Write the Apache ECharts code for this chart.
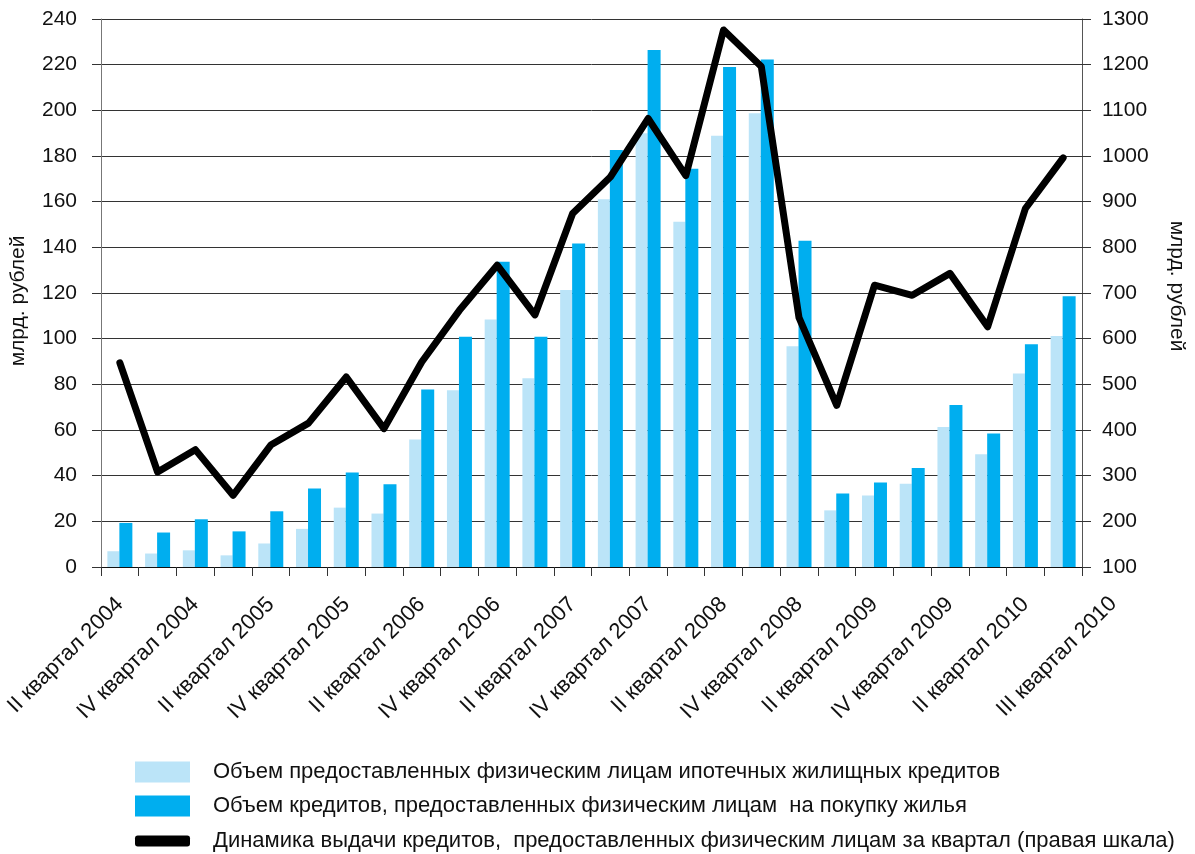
<!DOCTYPE html>
<html>
<head>
<meta charset="utf-8">
<script src="https://cdn.jsdelivr.net/npm/echarts@6/dist/echarts.min.js"></script>
<style>
  html, body { margin: 0; padding: 0; background: #fff; }
  #main { width: 1195px; height: 854px; }
</style>
</head>
<body>
<div id="main"></div>
<script>
// кварталы
const quarters = [
  "II квартал 2004", "III квартал 2004", "IV квартал 2004",
  "I квартал 2005", "II квартал 2005", "III квартал 2005", "IV квартал 2005",
  "I квартал 2006", "II квартал 2006", "III квартал 2006", "IV квартал 2006",
  "I квартал 2007", "II квартал 2007", "III квартал 2007", "IV квартал 2007",
  "I квартал 2008", "II квартал 2008", "III квартал 2008", "IV квартал 2008",
  "I квартал 2009", "II квартал 2009", "III квартал 2009", "IV квартал 2009",
  "I квартал 2010", "II квартал 2010", "III квартал 2010"
];
// ипотечные жилищные кредиты, млрд. руб.
const mortgage = [6.9, 5.9, 7.3, 5.1, 10.3, 16.7, 26, 23.4, 55.8, 77.4, 108.4, 82.7, 121.3,
  161.1, 190, 151.2, 188.9, 198.7, 96.7, 24.8, 31.3, 36.5, 61.3, 49.4, 84.7, 101.2];
// кредиты на покупку жилья, млрд. руб.
const housing = [19.3, 15.1, 20.9, 15.6, 24.4, 34.4, 41.4, 36.2, 77.7, 100.8, 133.7, 100.8, 141.7,
  182.6, 226.4, 174.4, 219, 222.3, 142.9, 32.2, 37, 43.4, 71, 58.5, 97.6, 118.6];
// выдача кредитов за квартал (правая шкала)
const issued = [547, 308, 357, 257, 367, 415, 516, 403, 549, 662, 761, 652, 874,
  954, 1082, 957, 1276, 1196, 646, 454, 717, 695, 743, 626, 885, 996];

const names = [
  "Объем предоставленных физическим лицам ипотечных жилищных кредитов",
  "Объем кредитов, предоставленных физическим лицам  на покупку жилья",
  "Динамика выдачи кредитов,  предоставленных физическим лицам за квартал (правая шкала)"
];

const font = "'Liberation Sans', Arial, Helvetica, sans-serif";
const chart = echarts.init(document.getElementById("main"));

// последняя подпись в оригинале сдвинута вправо
const lastIdx = quarters.length - 1;
const categoryData = quarters.map((q, i) =>
  i === lastIdx ? { value: q, textStyle: { verticalAlign: "top", padding: [24, -36, 0, 0] } } : q
);

const option = {
  animation: false,
  textStyle: { fontFamily: font, color: "#111" },
  grid: { left: 99, right: 109, top: 19, bottom: 287, containLabel: false },
  legend: [
    {
      orient: "vertical", left: 130, top: 756, itemWidth: 55, itemHeight: 21, itemGap: 12,
      data: [{ name: names[0], icon: "rect" }, { name: names[1], icon: "rect" }],
      textStyle: { fontFamily: font, fontSize: 22, color: "#111", padding: [0, 0, 0, 18] }
    },
    {
      orient: "vertical", left: 130, top: 825, itemWidth: 55, itemHeight: 11,
      data: [{ name: names[2], icon: "roundRect" }],
      textStyle: { fontFamily: font, fontSize: 22, color: "#111", padding: [0, 0, 0, 18] }
    }
  ],
  xAxis: {
    type: "category",
    data: categoryData,
    axisLine: { lineStyle: { color: "#111", width: 1 } },
    axisTick: { show: true, interval: 0, length: 9, lineStyle: { color: "#333" } },
    axisLabel: {
      interval: (i) => i % 2 === 0 || i === lastIdx,
      rotate: 45, margin: 34, fontSize: 22, color: "#111", fontFamily: font
    }
  },
  yAxis: [
    {
      type: "value", min: 0, max: 240, interval: 20,
      name: "млрд. рублей", nameLocation: "middle", nameGap: 72, nameRotate: 90,
      nameTextStyle: { fontSize: 21, color: "#111", fontFamily: font, padding: [0, 16, 0, 0] },
      axisLine: { show: true, lineStyle: { color: "#777" } },
      axisTick: { show: true, length: 9, lineStyle: { color: "#333" } },
      axisLabel: { fontSize: 21, color: "#111", margin: 24, fontFamily: font },
      splitLine: { lineStyle: { color: "#333", width: 1 } }
    },
    {
      type: "value", min: 100, max: 1300, interval: 100,
      name: "млрд. рублей", nameLocation: "middle", nameGap: 84, nameRotate: -90,
      nameTextStyle: { fontSize: 21, color: "#111", fontFamily: font, padding: [0, 14, 0, 0] },
      axisLine: { show: true, lineStyle: { color: "#555" } },
      axisTick: { show: true, length: 9, lineStyle: { color: "#333" } },
      axisLabel: { fontSize: 21, color: "#111", margin: 20, fontFamily: font, formatter: (v) => String(v) },
      splitLine: { show: false }
    }
  ],
  series: [
    {
      name: names[0], type: "bar", data: mortgage, barWidth: 12, barGap: "0%",
      itemStyle: { color: "#bbe4f8" }
    },
    {
      name: names[1], type: "bar", data: housing, barWidth: 13, barGap: "0%",
      itemStyle: { color: "#00aeef" }
    },
    {
      name: names[2], type: "line", yAxisIndex: 1, data: issued,
      showSymbol: false, symbol: "none",
      lineStyle: { color: "#000", width: 7, cap: "round", join: "round" },
      itemStyle: { color: "#000" }
    }
  ]
};

chart.setOption(option);
</script>
</body>
</html>
